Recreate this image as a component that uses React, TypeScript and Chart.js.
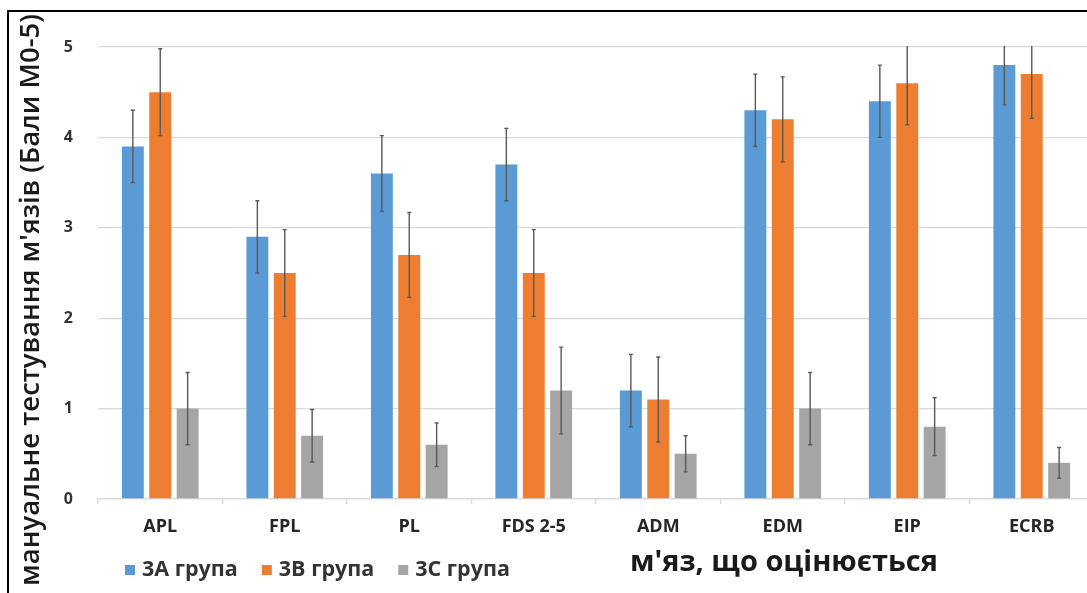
import React, { useEffect, useRef } from "react";
import { Chart, registerables } from "chart.js";

Chart.register(...registerables);

const categories = ["APL", "FPL", "PL", "FDS 2-5", "ADM", "EDM", "EIP", "ECRB"];
const groupA = [3.9, 2.9, 3.6, 3.7, 1.2, 4.3, 4.4, 4.8];
const groupB = [4.5, 2.5, 2.7, 2.5, 1.1, 4.2, 4.6, 4.7];
const groupC = [1.0, 0.7, 0.6, 1.2, 0.5, 1.0, 0.8, 0.4];
const errA = [0.4, 0.4, 0.42, 0.4, 0.4, 0.4, 0.4, 0.44];
const errB = [0.48, 0.48, 0.47, 0.48, 0.47, 0.47, 0.46, 0.49];
const errC = [0.4, 0.29, 0.24, 0.48, 0.2, 0.4, 0.32, 0.17];
const seriesLabels = ["3А група", "3В група", "3С група"];
const seriesColors = ["#5B9BD5", "#ED7D31", "#A5A5A5"];
const yTicks = [0, 1, 2, 3, 4, 5];
const yTitle = "мануальне тестування м'язів (Бали М0-5)";
const xTitle = "м'яз, що оцінюється";

const FAMILY = "'Open Sans', 'Noto Sans', 'DejaVu Sans', sans-serif";

function fitFont(ctx: CanvasRenderingContext2D, text: string, weight: string, target: number) {
  ctx.font = `${weight} 20px ${FAMILY}`;
  const w = ctx.measureText(text).width;
  return (20 * target) / w;
}

const decorPlugin = {
  id: "decor",
  afterDatasetsDraw(chart: any) {
    const { ctx, chartArea } = chart;
    const y = chart.scales.y;
    ctx.save();
    ctx.beginPath();
    ctx.rect(chartArea.left, chartArea.top - 1, chartArea.right - chartArea.left, chartArea.bottom - chartArea.top + 1);
    ctx.clip();
    ctx.strokeStyle = "#595959";
    ctx.lineWidth = 1.4;
    chart.data.datasets.forEach((ds: any, i: number) => {
      const meta = chart.getDatasetMeta(i);
      meta.data.forEach((bar: any, j: number) => {
        const v = ds.data[j];
        const e = ds.errors[j];
        const yt = y.getPixelForValue(v + e);
        const yb = y.getPixelForValue(v - e);
        ctx.beginPath();
        ctx.moveTo(bar.x, yt);
        ctx.lineTo(bar.x, yb);
        ctx.moveTo(bar.x - 2, yt);
        ctx.lineTo(bar.x + 2, yt);
        ctx.moveTo(bar.x - 2, yb);
        ctx.lineTo(bar.x + 2, yb);
        ctx.stroke();
      });
    });
    ctx.restore();
  },
  afterDraw(chart: any) {
    const { ctx } = chart;
    ctx.save();
    // Y title
    const ys = fitFont(ctx, yTitle, "600", 572);
    ctx.font = `600 ${ys}px ${FAMILY}`;
    ctx.fillStyle = "#1a1a1a";
    ctx.textAlign = "center";
    ctx.textBaseline = "middle";
    ctx.translate(31, 300);
    ctx.rotate(-Math.PI / 2);
    ctx.fillText(yTitle, 0, 0);
    ctx.setTransform(1, 0, 0, 1, 0, 0);
    // X title
    const xs = fitFont(ctx, xTitle, "bold", 308);
    ctx.font = `bold ${xs}px ${FAMILY}`;
    ctx.fillStyle = "#1a1a1a";
    ctx.textAlign = "center";
    ctx.textBaseline = "middle";
    ctx.fillText(xTitle, 784, 563);
    // Legend
    ctx.font = `bold 21.5px ${FAMILY}`;
    ctx.textAlign = "left";
    ctx.textBaseline = "middle";
    let x = 125;
    const yc = 570;
    chart.data.datasets.forEach((ds: any) => {
      ctx.fillStyle = ds.backgroundColor;
      ctx.fillRect(x, yc - 5, 10, 10);
      ctx.fillStyle = "#333333";
      ctx.fillText(ds.label, x + 17, yc);
      x += 17 + ctx.measureText(ds.label).width + 24;
    });
    ctx.restore();
  },
};

export default function App() {
  const ref = useRef<HTMLCanvasElement>(null);
  useEffect(() => {
    if (!ref.current) return;
    const errs = [errA, errB, errC];
    const vals = [groupA, groupB, groupC];
    const chart = new Chart(ref.current, {
      type: "bar",
      data: {
        labels: categories,
        datasets: vals.map((d, i) => ({
          label: seriesLabels[i],
          data: d,
          errors: errs[i],
          backgroundColor: seriesColors[i],
          borderWidth: 0,
          categoryPercentage: 0.66,
          barPercentage: 0.8,
        })) as any,
      },
      options: {
        responsive: false,
        animation: false,
        layout: { padding: { top: 47, right: 6, left: 0, bottom: 0 } },
        plugins: { legend: { display: false }, tooltip: { enabled: false } },
        scales: {
          x: {
            grid: { drawOnChartArea: false, drawTicks: true, tickLength: 5, color: "#d9d9d9", lineWidth: 1.3 },
            border: { color: "#d9d9d9", width: 1.3 },
            ticks: { padding: 12, color: "#262626", font: { family: FAMILY, size: 18, weight: "bold" } },
            afterFit: (s: any) => {
              s.height = 94;
            },
          },
          y: {
            min: 0,
            max: 5,
            afterBuildTicks: (s: any) => {
              s.ticks = yTicks.map((v) => ({ value: v }));
            },
            grid: { color: "#d9d9d9", lineWidth: 1.3, drawTicks: false },
            border: { display: false },
            ticks: { padding: 25, color: "#333333", font: { family: FAMILY, size: 16, weight: "bold" } },
            afterFit: (s: any) => {
              s.width = 98;
            },
          },
        },
      },
      plugins: [decorPlugin],
    } as any);
    return () => chart.destroy();
  }, []);
  return (
    <div style={{ position: "absolute", left: 0, top: 0, width: 1087, height: 593, overflow: "hidden", background: "#fff" }}>
      <canvas ref={ref} width={1100} height={593} style={{ position: "absolute", left: 0, top: 0, width: 1100, height: 593 }} />
      <div
        style={{
          position: "absolute",
          left: 7,
          top: 10,
          width: 1200,
          height: 700,
          borderLeft: "2px solid #000",
          borderTop: "2px solid #000",
          pointerEvents: "none",
        }}
      />
    </div>
  );
}
